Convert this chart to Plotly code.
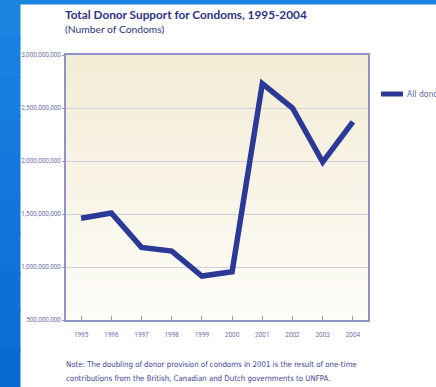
import plotly.graph_objects as go

years = ["1995", "1996", "1997", "1998", "1999", "2000", "2001", "2002", "2003", "2004"]
condoms = [1.46e9, 1.51e9, 1.185e9, 1.15e9, 0.915e9, 0.955e9, 2.73e9, 2.50e9, 1.99e9, 2.37e9]
series_name = "All donors"
y_ticks = [500e6, 1000e6, 1500e6, 2000e6, 2500e6, 3000e6]
y_tick_labels = ["500,000,000", "1,000,000,000", "1,500,000,000", "2,000,000,000",
                 "2,500,000,000", "3,000,000,000"]

title = "Total Donor Support for Condoms, 1995-2004"
subtitle = "(Number of Condoms)"
note_lines = ["Note: The doubling of donor provision of condoms in 2001 is the result of one-time",
              "contributions from the British, Canadian and Dutch governments to UNFPA."]

W, H = 436, 387
L, R, T, B = 66, 68, 55, 67
pw, ph = W - L - R, H - T - B

navy = "#2e3282"
line_col = "#2b3a96"
axis_col = "#8f93c8"
narrow = "Liberation Sans Narrow, Arial Narrow, DejaVu Sans Condensed"
tick_font = dict(family="Roboto", size=6.4, color="#6a6fa8")

fig = go.Figure()
fig.add_trace(go.Scatter(x=years, y=condoms, mode="lines", name=series_name,
                         line=dict(color=line_col, width=5.5), showlegend=False))

def px(xp):
    return (xp - L) / pw
def py(yp):
    return 1 - (yp - T) / ph

shapes = []
# plot-area vertical gradient
n = 40
c_top = (243, 236, 214)
c_bot = (253, 252, 247)
for i in range(n):
    t = i / (n - 1)
    c = tuple(round(c_top[k] + (c_bot[k] - c_top[k]) * t) for k in range(3))
    shapes.append(dict(type="rect", xref="x domain", yref="y domain",
                       x0=0, x1=1, y0=max(0, 1 - (i + 1) / n - 0.004), y1=1 - i / n,
                       fillcolor="rgb(%d,%d,%d)" % c, line=dict(width=0), layer="below"))
# blue page strips (left and top)
nb = 10
b_top = (26, 132, 224)
b_bot = (10, 106, 212)
for i in range(nb):
    t = i / (nb - 1)
    c = tuple(round(b_top[k] + (b_bot[k] - b_top[k]) * t) for k in range(3))
    shapes.append(dict(type="rect", xref="paper", yref="paper",
                       x0=px(-2), x1=px(20.5), y0=py(-2 + (i + 1) * (H + 4) / nb + 1.5), y1=py(-2 + i * (H + 4) / nb),
                       fillcolor="rgb(%d,%d,%d)" % c, line=dict(width=0), layer="below"))
shapes.append(dict(type="rect", xref="paper", yref="paper",
                   x0=px(-2), x1=px(W + 20), y0=py(4.5), y1=py(-2),
                   fillcolor="rgb(26,132,224)", line=dict(width=0), layer="below"))
# legend key
shapes.append(dict(type="line", xref="paper", yref="paper",
                   x0=px(381), x1=px(403), y0=py(94), y1=py(94),
                   line=dict(color=line_col, width=5)))

fig.update_layout(
    width=W, height=H,
    margin=dict(l=L, r=R, t=T, b=B),
    paper_bgcolor="white",
    plot_bgcolor="rgba(0,0,0,0)",
    shapes=shapes,
    showlegend=False,
    xaxis=dict(type="category", range=[-0.5, 9.5], showgrid=False,
               showline=True, linecolor=axis_col, linewidth=1.5, mirror=True,
               ticks="inside", ticklen=4, tickcolor=axis_col, tickwidth=1,
               tickfont=tick_font, ticklabelstandoff=8),
    yaxis=dict(range=[500e6, 3000e6], tickvals=y_ticks, ticktext=y_tick_labels,
               showgrid=True, gridcolor="#cfd0dc", gridwidth=1,
               showline=True, linecolor=axis_col, linewidth=1.5, mirror=True,
               ticks="outside", ticklen=2, tickcolor=axis_col,
               tickfont=tick_font, zeroline=False),
    annotations=[
        dict(text="<b>" + title + "</b>", xref="paper", yref="paper", x=px(63), y=py(5),
             xanchor="left", yanchor="top", showarrow=False,
             font=dict(family="Lato, Open Sans", size=11.8, color=navy)),
        dict(text=subtitle, xref="paper", yref="paper", x=px(63), y=py(21),
             xanchor="left", yanchor="top", showarrow=False,
             font=dict(family="Lato, Open Sans", size=10.3, color=navy)),
        dict(text=note_lines[0], xref="paper", yref="paper", x=px(64), y=py(358),
             xanchor="left", yanchor="top", showarrow=False, align="left",
             font=dict(family=narrow, size=7.8, color="#3e4392")),
        dict(text=note_lines[1], xref="paper", yref="paper", x=px(64), y=py(372),
             xanchor="left", yanchor="top", showarrow=False, align="left",
             font=dict(family=narrow, size=7.8, color="#3e4392")),
        dict(text=series_name, xref="paper", yref="paper", x=px(405), y=py(94),
             xanchor="left", yanchor="middle", showarrow=False,
             font=dict(family=narrow, size=8.5, color="#5a5f9c")),
    ],
)

fig.write_html("out.html")
